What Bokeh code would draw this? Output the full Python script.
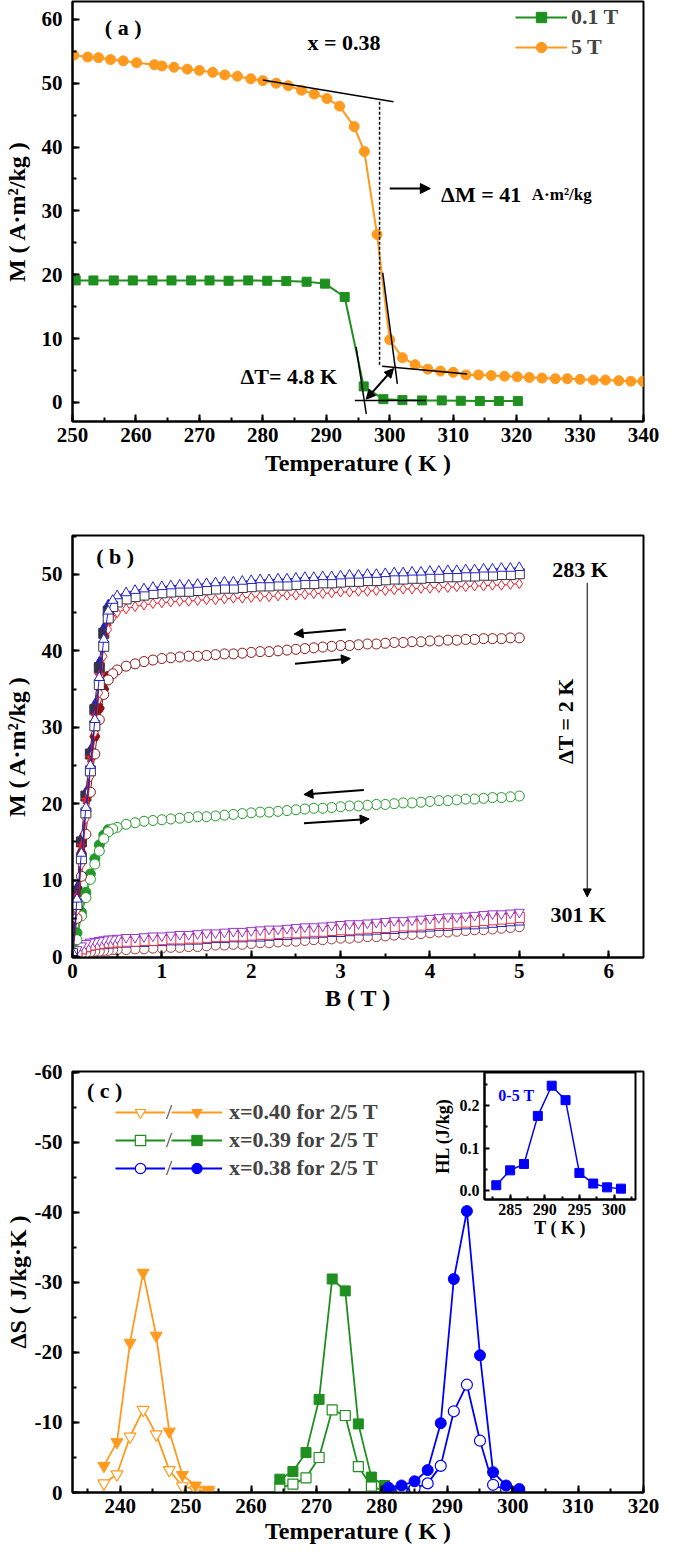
from bokeh.plotting import figure
from bokeh.models import (Range1d, SingleIntervalTicker, FixedTicker, Legend, LegendItem, Label, Arrow,
                          NormalHead, CustomJSTickFormatter)
from bokeh.layouts import column
from bokeh.embed import file_html
from bokeh.resources import INLINE

FONT = "Liberation Serif"
ORANGE = "#ff9a1f"
GREEN = "#1f8f1f"
BLUE = "#0000ff"

# ---------------- panel (a) data ----------------
T_5T = [250.2, 252.4, 254.1, 256.0, 258.0, 260.1, 262.9, 264.1, 266.0, 268.1, 270.0, 272.1, 274.0, 276.0,
        278.1, 280.0, 282.1, 284.0, 286.1, 288.1, 290.1, 292.1, 294.4, 296.0, 298.0, 300.0, 302.0, 304.0,
        306.0, 308.0, 310.0, 312.0, 314.0, 316.0, 318.1, 320.1, 322.0, 324.0, 326.1, 328.0, 330.0, 332.1,
        334.0, 336.1, 338.0, 339.9]
M_5T = [54.4, 54.1, 54.0, 53.7, 53.5, 53.2, 52.9, 52.7, 52.5, 52.2, 52.0, 51.7, 51.3, 51.1,
        50.7, 50.4, 50.0, 49.6, 48.9, 48.3, 47.6, 46.4, 43.2, 39.3, 26.3, 9.8, 7.0, 5.9,
        5.2, 4.9, 4.7, 4.3, 4.3, 4.2, 4.1, 4.0, 3.9, 3.8, 3.7, 3.7, 3.6, 3.5,
        3.5, 3.4, 3.3, 3.3]
T_01T = [250.5, 253.3, 256.5, 259.5, 262.6, 265.6, 268.7, 271.6, 274.6, 277.7, 280.7, 283.7, 286.9, 289.8,
         292.9, 295.9, 299.0, 302.0, 305.1, 308.2, 311.2, 314.2, 317.2, 320.2]
M_01T = [19.1, 19.1, 19.1, 19.1, 19.1, 19.1, 19.1, 19.1, 19.05, 19.1, 19.05, 19.0, 18.9, 18.6,
         16.5, 2.5, 0.5, 0.35, 0.3, 0.3, 0.25, 0.2, 0.2, 0.2]

# ---------------- panel (b) data ----------------
B_grid = [0, 0.05, 0.1, 0.15, 0.2, 0.25, 0.3, 0.35, 0.4, 0.45, 0.5,
          0.6, 0.7, 0.8, 0.9, 1.0,
          1.1, 1.2, 1.3, 1.4, 1.5, 1.6, 1.7, 1.8, 1.9, 2.0,
          2.1, 2.2, 2.3, 2.4, 2.5, 2.6, 2.7, 2.8, 2.9, 3.0,
          3.1, 3.2, 3.3, 3.4, 3.5, 3.6, 3.7, 3.8, 3.9, 4.0,
          4.1, 4.2, 4.3, 4.4, 4.5, 4.6, 4.7, 4.8, 4.9, 5.0]
B_low = [0, 0.05, 0.1, 0.15, 0.2, 0.25, 0.3, 0.35, 0.4]

M_283 = [0.5, 7.5, 13.5, 19.5, 25.0, 31.0, 36.5, 41.5, 45.2, 46.6, 47.2,
         47.6, 47.9, 48.1, 48.3, 48.4,
         48.5, 48.6, 48.6, 48.7, 48.8, 48.9, 49.0, 49.0, 49.1, 49.2,
         49.3, 49.3, 49.4, 49.4, 49.5, 49.6, 49.6, 49.7, 49.7, 49.8,
         49.9, 49.9, 50.0, 50.0, 50.1, 50.2, 50.2, 50.3, 50.3, 50.4,
         50.4, 50.5, 50.5, 50.6, 50.6, 50.7, 50.7, 50.8, 50.8, 50.9]
M_285 = [0.4, 6.8, 12.8, 18.8, 24.3, 30.2, 35.6, 40.6, 44.3, 45.8, 46.4,
         46.8, 47.1, 47.3, 47.5, 47.6,
         47.7, 47.8, 47.8, 47.9, 48.0, 48.1, 48.2, 48.2, 48.3, 48.4,
         48.5, 48.5, 48.6, 48.6, 48.7, 48.8, 48.8, 48.9, 48.9, 49.0,
         49.1, 49.1, 49.2, 49.2, 49.3, 49.4, 49.4, 49.5, 49.5, 49.6,
         49.6, 49.7, 49.7, 49.8, 49.8, 49.9, 49.9, 50.0, 50.0, 50.1]
M_287 = [0.3, 6.0, 12.0, 18.0, 23.5, 29.3, 34.5, 39.3, 42.8, 44.3, 45.0,
         45.5, 45.8, 46.0, 46.2, 46.3,
         46.4, 46.5, 46.5, 46.6, 46.7, 46.7, 46.8, 46.9, 46.9, 47.0,
         47.1, 47.1, 47.2, 47.3, 47.3, 47.4, 47.5, 47.5, 47.6, 47.7,
         47.7, 47.8, 47.8, 47.9, 47.9, 48.0, 48.1, 48.1, 48.2, 48.2,
         48.3, 48.3, 48.4, 48.4, 48.5, 48.5, 48.6, 48.6, 48.7, 48.8]
M_289 = [0.2, 5.0, 10.5, 16.0, 21.5, 26.5, 31.0, 34.3, 36.2, 37.0, 37.5,
         38.0, 38.3, 38.6, 38.8, 39.0,
         39.1, 39.2, 39.3, 39.3, 39.4, 39.5, 39.6, 39.6, 39.7, 39.8,
         39.9, 39.9, 40.0, 40.1, 40.2, 40.3, 40.4, 40.5, 40.6, 40.7,
         40.7, 40.8, 40.9, 40.9, 41.0, 41.1, 41.1, 41.2, 41.2, 41.3,
         41.3, 41.4, 41.4, 41.5, 41.5, 41.6, 41.6, 41.6, 41.7, 41.7]
M_291 = [0.1, 2.2, 5.3, 7.7, 10.1, 12.1, 13.8, 15.4, 16.3, 16.7, 16.9,
         17.3, 17.5, 17.7, 17.8, 17.9,
         18.0, 18.1, 18.2, 18.3, 18.3, 18.4, 18.5, 18.6, 18.7, 18.8,
         18.9, 18.9, 19.0, 19.1, 19.2, 19.3, 19.4, 19.4, 19.5, 19.6,
         19.7, 19.7, 19.8, 19.9, 19.9, 20.0, 20.1, 20.1, 20.2, 20.3,
         20.4, 20.4, 20.5, 20.6, 20.6, 20.7, 20.8, 20.8, 20.9, 21.0]
M_293 = [0.1, 0.9, 1.4, 1.7, 1.9, 2.0, 2.1, 2.2, 2.3, 2.3, 2.4,
         2.5, 2.5, 2.6, 2.7, 2.7,
         2.8, 2.9, 2.9, 3.0, 3.1, 3.1, 3.2, 3.3, 3.3, 3.4,
         3.5, 3.6, 3.6, 3.7, 3.8, 3.9, 3.9, 4.0, 4.1, 4.2,
         4.3, 4.3, 4.4, 4.5, 4.6, 4.7, 4.7, 4.8, 4.9, 5.0,
         5.1, 5.2, 5.2, 5.3, 5.4, 5.5, 5.6, 5.6, 5.7, 5.8]
M_295 = [0.1, 0.6, 1.0, 1.3, 1.5, 1.6, 1.7, 1.8, 1.8, 1.9, 1.9,
         2.0, 2.0, 2.1, 2.1, 2.2,
         2.3, 2.3, 2.4, 2.4, 2.5, 2.6, 2.6, 2.7, 2.7, 2.8,
         2.9, 2.9, 3.0, 3.1, 3.1, 3.2, 3.3, 3.3, 3.4, 3.5,
         3.5, 3.6, 3.7, 3.8, 3.8, 3.9, 4.0, 4.0, 4.1, 4.2,
         4.3, 4.3, 4.4, 4.5, 4.6, 4.7, 4.8, 4.9, 5.0, 5.1]
M_297 = [0.1, 0.5, 0.8, 1.0, 1.2, 1.3, 1.4, 1.4, 1.5, 1.5, 1.6,
         1.6, 1.7, 1.7, 1.8, 1.8,
         1.9, 1.9, 2.0, 2.0, 2.1, 2.2, 2.2, 2.3, 2.3, 2.4,
         2.4, 2.5, 2.6, 2.6, 2.7, 2.8, 2.8, 2.9, 3.0, 3.0,
         3.1, 3.2, 3.2, 3.3, 3.4, 3.4, 3.5, 3.6, 3.6, 3.7,
         3.8, 3.8, 3.9, 4.0, 4.0, 4.1, 4.2, 4.3, 4.4, 4.5]
M_299 = [0.0, 0.2, 0.4, 0.5, 0.6, 0.7, 0.7, 0.8, 0.8, 0.9, 0.9,
         0.9, 1.0, 1.0, 1.1, 1.1,
         1.2, 1.2, 1.3, 1.3, 1.4, 1.5, 1.5, 1.6, 1.6, 1.7,
         1.8, 1.8, 1.9, 2.0, 2.0, 2.1, 2.2, 2.2, 2.3, 2.4,
         2.4, 2.5, 2.6, 2.6, 2.7, 2.8, 2.9, 2.9, 3.0, 3.1,
         3.2, 3.2, 3.3, 3.4, 3.5, 3.5, 3.6, 3.7, 3.8, 3.9]
# field-decreasing branch (visible at low field only)
D_283 = [1.0, 9.0, 15.5, 21.5, 27.0, 33.0, 38.5, 43.0, 46.0]
D_285 = [0.9, 8.5, 15.0, 21.0, 26.5, 32.3, 37.8, 42.3, 45.2]
D_287 = [0.8, 8.0, 14.5, 20.5, 26.0, 31.5, 36.8, 41.0, 43.8]
D_289 = [0.5, 7.2, 13.5, 19.0, 24.0, 28.8, 32.5, 35.0, 36.7]
D_291 = [0.3, 3.1, 5.8, 8.4, 10.8, 12.8, 14.6, 15.9, 16.6]

# ---------------- panel (c) data ----------------
T_040 = [237.5, 239.5, 241.5, 243.5, 245.5, 247.5, 249.5, 251.5, 253.5]
S_040_5T = [-3.8, -7.2, -21.4, -31.4, -22.4, -8.7, -2.5, -1.0, -0.4]
S_040_2T = [-1.3, -2.6, -8.0, -11.8, -8.3, -3.2, -0.9, -0.4, -0.15]
T_039 = [264.4, 266.4, 268.4, 270.4, 272.4, 274.4, 276.4, 278.4, 280.4, 282.4, 284.4]
S_039_5T = [-1.9, -3.0, -5.7, -13.3, -30.5, -28.8, -9.8, -2.2, -1.0, -0.2, -0.1]
S_039_2T = [-0.7, -1.2, -2.1, -5.0, -11.8, -11.0, -3.7, -0.9, -0.2, -0.1, -0.05]
T_038 = [281, 283, 285, 287, 289, 291, 293, 295, 297, 299, 301]
S_038_5T = [-0.7, -1.0, -1.6, -3.2, -9.9, -30.5, -40.2, -19.6, -2.9, -1.0, -0.5]
S_038_2T = [-0.5, -0.4, -0.6, -1.3, -3.8, -11.6, -15.4, -7.4, -1.1, -0.4, -0.2]
T_HL = [283, 285, 287, 289, 291, 293, 295, 297, 299, 301]
HL = [0.013, 0.048, 0.063, 0.176, 0.247, 0.213, 0.042, 0.017, 0.008, 0.005]
HL_ticks = [0.0, 0.1, 0.2]


def style_axes(p, xint, yint, xlab, ylab, tick_size="21px", lab_size="24px",
               x_std=(6, 5), y_std=(10, 9), tick_in=7, minor_in=4, lw=2):
    p.xgrid.visible = False
    p.ygrid.visible = False
    p.outline_line_color = "black"
    p.outline_line_width = lw
    p.xaxis.ticker = SingleIntervalTicker(interval=xint, num_minor_ticks=2)
    if yint is not None:
        p.yaxis.ticker = SingleIntervalTicker(interval=yint, num_minor_ticks=2)
    p.xaxis.axis_label = xlab
    p.yaxis.axis_label = ylab
    for ax in p.axis:
        ax.axis_line_width = lw
        ax.axis_line_color = "black"
        ax.major_tick_in = tick_in
        ax.major_tick_out = 0
        ax.minor_tick_in = minor_in
        ax.minor_tick_out = 0
        ax.major_tick_line_width = lw
        ax.minor_tick_line_width = lw
        ax.major_label_text_font = FONT
        ax.major_label_text_font_style = "bold"
        ax.major_label_text_font_size = tick_size
        ax.major_label_text_color = "black"
        ax.axis_label_text_font = FONT
        ax.axis_label_text_font_style = "bold"
        ax.axis_label_text_font_size = lab_size
        ax.axis_label_text_color = "black"
    p.xaxis.major_label_standoff = x_std[0]
    p.xaxis.axis_label_standoff = x_std[1]
    p.yaxis.major_label_standoff = y_std[0]
    p.yaxis.axis_label_standoff = y_std[1]


def label(p, x, y, text, size="22px", color="black", align="left", baseline="middle", angle=0, style="bold"):
    p.add_layout(Label(x=x, y=y, text=text, text_font=FONT, text_font_style=style,
                       text_font_size=size, text_color=color, text_align=align,
                       text_baseline=baseline, angle=angle))


def arrow(p, x0, y0, x1, y1, lw=2, size=10, both=False):
    head = NormalHead(size=size, fill_color="black", line_color="black", line_width=1)
    kw = dict(x_start=x0, y_start=y0, x_end=x1, y_end=y1, line_width=lw, line_color="black", end=head)
    if both:
        kw["start"] = NormalHead(size=size, fill_color="black", line_color="black", line_width=1)
    else:
        kw["start"] = None
    p.add_layout(Arrow(**kw))


common = dict(output_backend="svg", toolbar_location=None, width=659,
              min_border_left=71, min_border_right=16)

# ================= panel (a) =================
pa = figure(height=490, x_range=Range1d(250, 340), y_range=Range1d(-3.0, 62.8),
            min_border_top=1, min_border_bottom=69, **common)
style_axes(pa, 10, 10, "Temperature ( K )", "M ( A·m²/kg )", x_std=(6, 5), y_std=(10, 9))

rg_l = pa.line(T_01T, M_01T, line_color=GREEN, line_width=2)
rg_s = pa.scatter(T_01T, M_01T, marker="square", size=9, fill_color=GREEN, line_color=GREEN)
ro_l = pa.line(T_5T, M_5T, line_color=ORANGE, line_width=2)
ro_s = pa.scatter(T_5T, M_5T, marker="circle", size=10, fill_color=ORANGE, line_color=ORANGE)

# construction lines
pa.line([280.0, 300.6], [50.5, 47.1], line_color="black", line_width=1.5)
pa.line([298.4, 298.4], [47.1, 5.65], line_color="black", line_width=1.5, line_dash="3 2")
pa.line([298.9, 301.2], [20.3, 2.9], line_color="black", line_width=1.5)
pa.line([298.8, 312.2], [5.65, 4.45], line_color="black", line_width=1.5)
pa.line([294.7, 296.3], [8.7, -1.8], line_color="black", line_width=1.5)
pa.line([294.5, 305.7], [0.3, 0.3], line_color="black", line_width=1.5)
arrow(pa, 296.3, 0.5, 300.6, 5.3, lw=2, size=9, both=True)
arrow(pa, 300.0, 33.5, 306.4, 33.5, lw=2, size=10)

label(pa, 255.1, 58.8, "( a )")
label(pa, 292.8, 56.3, "x = 0.38", align="center")
label(pa, 308.1, 32.6, "ΔM = 41", baseline="alphabetic")
label(pa, 322.4, 32.6, "A·m²/kg", size="17px", baseline="alphabetic")
label(pa, 284.1, 4.1, "ΔT= 4.8 K", align="center")

leg_a = Legend(items=[LegendItem(label="0.1 T", renderers=[rg_l, rg_s]),
                      LegendItem(label="5 T", renderers=[ro_l, ro_s])],
               location=(443, 361), glyph_width=52, glyph_height=26, label_height=26,
               spacing=4, padding=0, margin=0, label_standoff=4,
               border_line_color=None, background_fill_alpha=0,
               label_text_font=FONT, label_text_font_style="bold", label_text_font_size="22px")
pa.add_layout(leg_a)

# ================= panel (b) =================
pb = figure(height=540, x_range=Range1d(0, 6.39), y_range=Range1d(-0.13, 55.1),
            min_border_top=45, min_border_bottom=73, **common)
style_axes(pb, 1, 10, "B ( T )", "M ( A·m²/kg )", x_std=(6, 4), y_std=(10, 9))

curves = [
    (M_283, D_283, "#2020d0", "triangle", "triangle"),
    (M_285, D_285, "#33334d", "square", "square"),
    (M_287, D_287, "#e8202a", "diamond", "star"),
    (M_289, D_289, "#8b1414", "circle", "hex"),
    (M_291, D_291, "#22992a", "circle", "circle"),
    (M_293, None, "#9932cc", "inverted_triangle", None),
    (M_295, None, "#e83040", "square", None),
    (M_297, None, "#2424b8", "triangle", None),
    (M_299, None, "#a03c3c", "circle", None),
]
for up, down, col, mk, mk_f in curves:
    if down is not None:
        pb.line(B_low, down, line_color=col, line_width=1)
        pb.scatter(B_low, down, marker=mk_f, size=10, fill_color=col, line_color=col)
for up, down, col, mk, mk_f in reversed(curves):
    pb.line(B_grid, up, line_color=col, line_width=1)
    pb.scatter(B_grid[::-1], up[::-1], marker=mk, size=10, fill_color="white", line_color=col, line_width=1)

arrow(pb, 3.06, 42.8, 2.48, 42.2, lw=2, size=9)
arrow(pb, 2.49, 38.3, 3.11, 39.0, lw=2, size=9)
arrow(pb, 3.26, 21.8, 2.59, 21.2, lw=2, size=9)
arrow(pb, 2.59, 17.45, 3.32, 18.0, lw=2, size=9)
arrow(pb, 5.76, 48.9, 5.76, 7.8, lw=1, size=8)

label(pb, 0.265, 52.4, "( b )")
label(pb, 5.37, 50.6, "283 K")
label(pb, 5.35, 5.5, "301 K")
label(pb, 5.52, 30.8, "ΔT = 2 K", align="center", angle=1.5708)

# ================= panel (c) =================
pc = figure(height=521, x_range=Range1d(232.7, 320), y_range=Range1d(0, -60.14),
            min_border_top=41, min_border_bottom=59, **common)
style_axes(pc, 10, 10, "Temperature ( K )", "ΔS ( J/kg·K )", x_std=(6, 2), y_std=(10, 1))
pc.yaxis.formatter = CustomJSTickFormatter(code="return tick.toFixed(0);")

series_c = [
    (T_040, S_040_2T, S_040_5T, ORANGE, "inverted_triangle", 12, "x=0.40 for 2/5 T"),
    (T_039, S_039_2T, S_039_5T, GREEN, "square", 10, "x=0.39 for 2/5 T"),
    (T_038, S_038_2T, S_038_5T, BLUE, "circle", 11, "x=0.38 for 2/5 T"),
]
items_open, items_fill = [], []
for T, s2, s5, col, mk, sz, txt in series_c:
    lo = pc.line(T, s2, line_color=col, line_width=1.8)
    so = pc.scatter(T, s2, marker=mk, size=sz, fill_color="white", line_color=col, line_width=1.2)
    lf = pc.line(T, s5, line_color=col, line_width=1.8)
    sf = pc.scatter(T, s5, marker=mk, size=sz, fill_color=col, line_color=col)
    items_open.append(LegendItem(label="/", renderers=[lo, so]))
    items_fill.append(LegendItem(label=txt, renderers=[lf, sf]))

leg_kw = dict(glyph_height=26, label_height=26, spacing=2, padding=0, margin=0,
              border_line_color=None, background_fill_alpha=0,
              label_text_font=FONT, label_text_font_size="22px")
pc.add_layout(Legend(items=items_open, location=(43, 311), glyph_width=50, label_standoff=1,
                     label_text_font_style="normal", **leg_kw))
pc.add_layout(Legend(items=items_fill, location=(99, 311), glyph_width=51, label_standoff=7,
                     label_text_font_style="bold", **leg_kw))
label(pc, 234.9, -57.4, "( c )")

# ---------------- inset ----------------
pi = figure(width=239, height=178, x_range=Range1d(281.3, 303.1), y_range=Range1d(-0.0205, 0.278),
            output_backend="svg", toolbar_location=None,
            min_border_left=55, min_border_right=8, min_border_top=1, min_border_bottom=50,
            border_fill_color=None, background_fill_color="white")
style_axes(pi, 5, None, "T ( K )", "HL (J/kg)", tick_size="16px", lab_size="18px",
           x_std=(4, 0), y_std=(5, 4), tick_in=5, minor_in=3, lw=2)
pi.yaxis.ticker = FixedTicker(ticks=HL_ticks, minor_ticks=[0.05, 0.15, 0.25])
pi.yaxis.formatter = CustomJSTickFormatter(code="return tick.toFixed(1);")
pi.line(T_HL, HL, line_color=BLUE, line_width=1.5)
pi.scatter(T_HL, HL, marker="square", size=9, fill_color=BLUE, line_color=BLUE)
label(pi, 283.3, 0.224, "0-5 T", size="16px", color=BLUE)
pi.margin = (-480, 0, 0, 412)

layout = column(pa, pb, pc, pi, spacing=0)
open("out.html", "w").write(file_html(layout, INLINE))
